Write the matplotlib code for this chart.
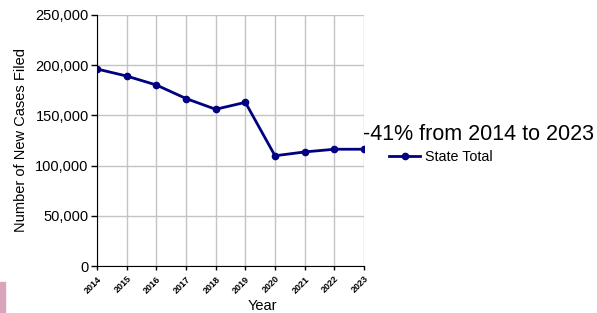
import numpy as np
import matplotlib.pyplot as plt
from matplotlib.patches import Rectangle

plt.rcParams['font.family'] = ['Liberation Sans', 'DejaVu Sans']

# data
years = [2014, 2015, 2016, 2017, 2018, 2019, 2020, 2021, 2022, 2023]
cases = [196200, 189200, 180300, 166800, 156100, 163000, 109800, 113600, 116300, 116300]
yticks = [0, 50000, 100000, 150000, 200000, 250000]

fig = plt.figure(figsize=(5.97, 3.13), dpi=100)
ax = fig.add_axes([97 / 597, 47 / 313, 267 / 597, 251 / 313])

ax.plot(years, cases, color='#000080', lw=2, marker='o', ms=4.5, label='State Total')
ax.set_xlim(years[0], years[-1])
ax.set_ylim(0, 250000)
ax.set_yticks(yticks)
ax.set_yticklabels([f'{v:,}' for v in yticks], fontsize=10.5)
ax.set_xticks(years)
ax.set_xticklabels([str(y) for y in years], fontsize=6.5, rotation=45, ha='right',
                   rotation_mode='anchor', fontweight='bold')
ax.grid(True, color='#c4c4c4', lw=1)
ax.set_axisbelow(True)
for s in ['top', 'right']:
    ax.spines[s].set_visible(False)
for s in ['left', 'bottom']:
    ax.spines[s].set_color('black')
ax.tick_params(axis='y', length=4, width=1, pad=2)
ax.tick_params(axis='x', length=3, width=1, pad=3)

ax.set_ylabel('Number of New Cases Filed', fontsize=10.5, labelpad=5)
ax.set_xlabel('Year', fontsize=10.5, va='center')
ax.xaxis.set_label_coords(0.618, -0.159)

fig.text(363 / 597, 1 - 134 / 313, '-41% from 2014 to 2023', fontsize=15.5,
         va='center', ha='left')
ax.legend(loc='center left', bbox_to_anchor=(389 / 597, 1 - 157 / 313),
          bbox_transform=fig.transFigure, frameon=False, fontsize=10.3,
          handlelength=2.2, handletextpad=0.3, borderpad=0, borderaxespad=0)

fig.patches.append(Rectangle((0, 0), 5 / 597, 31 / 313, transform=fig.transFigure,
                             color='#dba4bd', zorder=0))

fig.savefig('out.png', dpi=100)
